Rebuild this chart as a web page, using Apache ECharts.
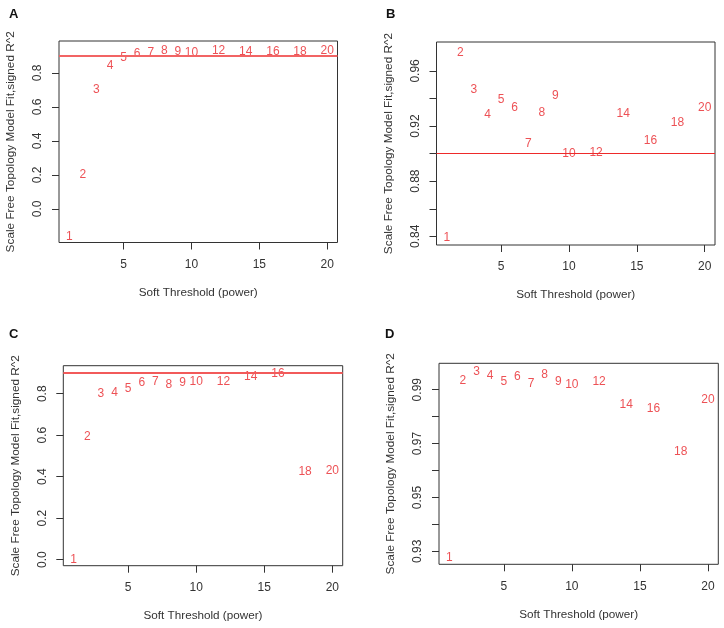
<!DOCTYPE html>
<html>
<head>
<meta charset="utf-8">
<script src="https://cdn.jsdelivr.net/npm/echarts@6/dist/echarts.min.js"></script>
<style>html,body{margin:0;padding:0;background:#fff;}#c{width:724px;height:628px;}</style>
</head>
<body>
<div id="c"></div>
<script>
// ---- data ----
const powers = [1, 2, 3, 4, 5, 6, 7, 8, 9, 10, 12, 14, 16, 18, 20];
const fitA = [-0.161, 0.204, 0.702, 0.845, 0.892, 0.914, 0.920, 0.933, 0.925, 0.920, 0.929, 0.924, 0.924, 0.924, 0.933];
const fitB = [0.8393, 0.9733, 0.9465, 0.9284, 0.9388, 0.9334, 0.9074, 0.9296, 0.9417, 0.8996, 0.9008, 0.9293, 0.9093, 0.9226, 0.9332];
const fitC = [0.002, 0.593, 0.800, 0.805, 0.824, 0.851, 0.856, 0.845, 0.853, 0.858, 0.859, 0.882, 0.895, 0.424, 0.4305];
const fitD = [0.9278, 0.9932, 0.9967, 0.9952, 0.9930, 0.9947, 0.9921, 0.9954, 0.9931, 0.9917, 0.9931, 0.9843, 0.9828, 0.9669, 0.9862];
const threshold = 0.9;
const xTicks = [5, 10, 15, 20];
const yTicksA = [0.0, 0.2, 0.4, 0.6, 0.8];
const yTicksB = [0.84, 0.86, 0.88, 0.90, 0.92, 0.94, 0.96];
const yLabelsB = [0.84, 0.88, 0.92, 0.96];
const yTicksC = [0.0, 0.2, 0.4, 0.6, 0.8];
const yTicksD = [0.93, 0.94, 0.95, 0.96, 0.97, 0.98, 0.99];
const yLabelsD = [0.93, 0.95, 0.97, 0.99];
const panelLetters = ['A', 'B', 'C', 'D'];
const xTitle = 'Soft Threshold (power)';
const yTitle = 'Scale Free Topology Model Fit,signed R^2';

// ---- layout ----
const FONT = '"Liberation Sans", Arial, sans-serif';
const panels = [
  {fit: fitA, grid: {left: 59, top: 41, width: 278.5, height: 201.5}, ymin: -0.198, ymax: 0.988, ticks: yTicksA, labels: yTicksA, dec: 1, line: {color: '#f26464', width: 2}, letter: [9, 11]},
  {fit: fitB, grid: {left: 436.5, top: 42, width: 278.5, height: 203}, ymin: 0.8337, ymax: 0.981, ticks: yTicksB, labels: yLabelsB, dec: 2, line: {color: '#ee2a2a', width: 1.2}, letter: [386, 11]},
  {fit: fitC, grid: {left: 63.3, top: 365.7, width: 279.4, height: 200}, ymin: -0.029, ymax: 0.935, ticks: yTicksC, labels: yTicksC, dec: 1, line: {color: '#f25a5a', width: 1.8}, letter: [9, 331]},
  {fit: fitD, grid: {left: 439, top: 363.3, width: 279.3, height: 201}, ymin: 0.9252, ymax: 0.9998, ticks: yTicksD, labels: yLabelsD, dec: 2, line: null, letter: [385, 331]}
];

const grids = [], xAxes = [], yAxes = [], series = [], titles = [];
panels.forEach((p, i) => {
  grids.push(Object.assign({show: true, borderColor: '#333', borderWidth: 1, backgroundColor: 'transparent'}, p.grid));
  xAxes.push({
    type: 'value', gridIndex: i, min: 0.24, max: 20.76,
    splitLine: {show: false}, axisLine: {show: false, onZero: false},
    axisTick: {show: true, length: 7, lineStyle: {color: '#333'}, customValues: xTicks},
    axisLabel: {show: true, margin: 16, fontSize: 12, color: '#333', fontFamily: FONT, customValues: xTicks},
    name: xTitle, nameLocation: 'middle', nameGap: 44,
    nameTextStyle: {fontSize: 11.7, color: '#333', fontFamily: FONT}
  });
  yAxes.push({
    type: 'value', gridIndex: i, min: p.ymin, max: p.ymax,
    splitLine: {show: false}, axisLine: {show: false, onZero: false},
    axisTick: {show: true, length: 7, lineStyle: {color: '#333'}, customValues: p.ticks},
    axisLabel: {show: true, rotate: 90, margin: 15, fontSize: 12, color: '#333', fontFamily: FONT,
      customValues: p.labels, formatter: v => Number(v).toFixed(p.dec)},
    name: yTitle, nameLocation: 'middle', nameGap: 42,
    nameTextStyle: {fontSize: 11.8, color: '#333', fontFamily: FONT}
  });
  const s = {
    type: 'scatter', xAxisIndex: i, yAxisIndex: i,
    symbolSize: 1, itemStyle: {color: 'rgba(0,0,0,0)'},
    data: powers.map((x, k) => [x, p.fit[k]]),
    label: {show: true, position: 'inside', formatter: q => String(q.value[0]),
      color: '#e8262b', fontSize: 12, fontFamily: FONT},
    silent: true, animation: false
  };
  if (p.line) {
    s.markLine = {silent: true, symbol: 'none', label: {show: false}, animation: false,
      lineStyle: {color: p.line.color, width: p.line.width, type: 'solid', opacity: 1},
      data: [{yAxis: threshold}]};
  }
  series.push(s);
  titles.push({text: panelLetters[i], left: p.letter[0] - 5, top: p.letter[1] - 8,
    textStyle: {fontSize: 13, fontWeight: 'bold', color: '#111', fontFamily: FONT}});
});

const chart = echarts.init(document.getElementById('c'), null, {renderer: 'canvas'});
chart.setOption({animation: false, title: titles, grid: grids, xAxis: xAxes, yAxis: yAxes, series: series});
</script>
</body>
</html>
